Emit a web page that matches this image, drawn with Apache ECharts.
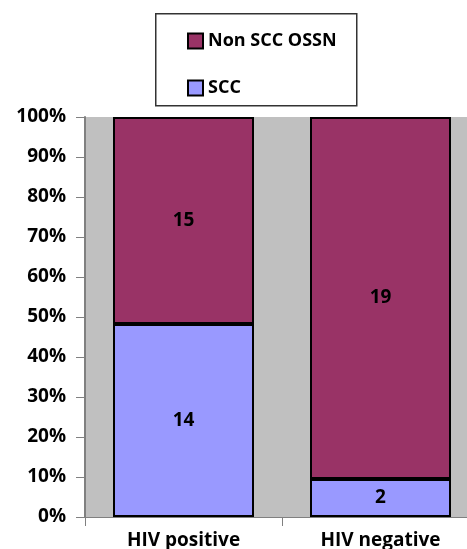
<!DOCTYPE html>
<html>
<head>
<meta charset="utf-8">
<script src="https://cdn.jsdelivr.net/npm/echarts@6/dist/echarts.min.js"></script>
<style>html,body{margin:0;padding:0;background:#fff;overflow:hidden;width:467px;height:549px;}#c{width:479px;height:549px;}</style>
</head>
<body>
<div id="c"></div>
<script>
const categories = ['HIV positive', 'HIV negative'];
const sccCounts = [14, 2];
const nonSccCounts = [15, 19];
const yTicks = [0, 10, 20, 30, 40, 50, 60, 70, 80, 90, 100];

const totals = categories.map((c, i) => sccCounts[i] + nonSccCounts[i]);
const sccPct = sccCounts.map((v, i) => v / totals[i] * 100);
const nonPct = nonSccCounts.map((v, i) => v / totals[i] * 100);

const font = '"Open Sans", "DejaVu Sans", sans-serif';
const chart = echarts.init(document.getElementById('c'));
chart.setOption({
  animation: false,
  backgroundColor: '#fff',
  graphic: [{
    type: 'rect', left: 155, top: 13, z: -1,
    shape: { width: 201, height: 92 },
    style: { fill: '#fff', stroke: '#333', lineWidth: 1.5 }
  }],
  legend: {
    orient: 'vertical', left: 182, top: 27, itemGap: 29,
    itemWidth: 15, itemHeight: 15, icon: 'rect',
    data: ['Non SCC OSSN', 'SCC'],
    textStyle: { fontFamily: font, fontWeight: 'bold', fontSize: 18, color: '#000', lineHeight: 18 },
    itemStyle: { borderColor: '#000', borderWidth: 2 }
  },
  grid: { left: 85, top: 117, right: 0, bottom: 32, show: true, backgroundColor: '#c0c0c0', borderWidth: 0, containLabel: false, outerBoundsMode: 'none' },
  xAxis: {
    type: 'category', data: categories,
    axisLine: { lineStyle: { color: '#808080', width: 1 } },
    axisTick: { show: true, length: 9, lineStyle: { color: '#808080' } },
    axisLabel: { fontFamily: font, fontWeight: 'bold', fontSize: 19, color: '#000', margin: 14 }
  },
  yAxis: {
    type: 'value', min: 0, max: 100, interval: 10,
    axisLine: { show: true, lineStyle: { color: '#808080', width: 2 } },
    axisTick: { show: true, length: 9, lineStyle: { color: '#808080' } },
    splitLine: { show: false },
    axisLabel: { formatter: v => yTicks.includes(v) ? v + '%' : '', fontFamily: font, fontWeight: 'bold', fontSize: 19, color: '#000', margin: 19 }
  },
  series: [
    {
      name: 'SCC', type: 'bar', stack: 'a', barWidth: 141, data: sccPct,
      itemStyle: { color: '#9999ff', borderColor: '#000', borderWidth: 2 },
      label: { show: true, position: 'inside', formatter: p => sccCounts[p.dataIndex], fontFamily: font, fontWeight: 'bold', fontSize: 19, color: '#000' }
    },
    {
      name: 'Non SCC OSSN', type: 'bar', stack: 'a', barWidth: 141, data: nonPct,
      itemStyle: { color: '#993366', borderColor: '#000', borderWidth: 2 },
      label: { show: true, position: 'inside', formatter: p => nonSccCounts[p.dataIndex], fontFamily: font, fontWeight: 'bold', fontSize: 19, color: '#000' }
    }
  ]
});
</script>
</body>
</html>
